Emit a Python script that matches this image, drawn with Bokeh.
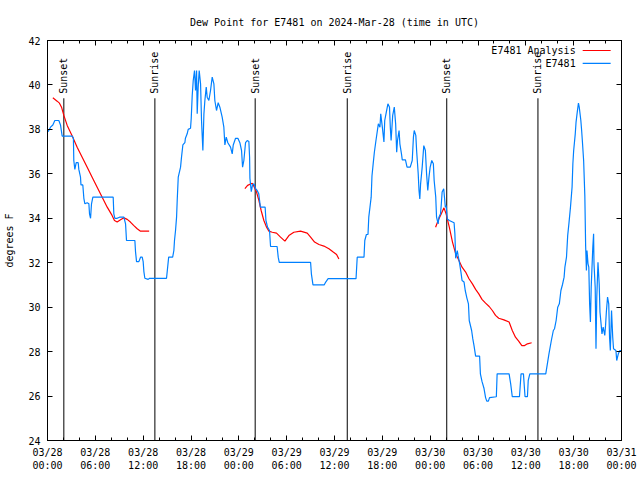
import math
from bokeh.plotting import figure
from bokeh.models import FixedTicker, LinearAxis, Label, Range1d
from bokeh.embed import file_html
from bokeh.resources import INLINE
from bokeh.core.properties import value

# ---------------- data (hours since 03/28 00:00 UTC, degrees F) ----------------
obs_hours = [0.08, 0.38, 0.67, 0.92, 1.42, 1.63, 1.84, 3.1, 3.25, 3.3, 3.43, 3.6, 3.85, 3.93, 4.14, 4.2, 4.43,
             4.56, 4.69, 4.98, 5.19, 5.27, 5.4, 5.52, 5.69, 8.24, 8.32, 8.45, 8.74, 9.03, 9.58, 9.79, 9.91,
             10.96, 11.04, 11.17, 11.46, 11.67, 11.88, 12.0, 12.09, 12.21, 12.63, 12.8, 14.93, 15.2, 15.7,
             15.85, 15.93, 16.06, 16.19, 16.27, 16.4, 16.69, 16.81, 16.98, 17.23, 17.3, 17.52, 17.65, 17.94,
             18.03, 18.15, 18.28, 18.44, 18.57, 18.7, 18.78, 18.9, 19.03, 19.2, 19.32, 19.49, 19.62, 19.74,
             19.91, 20.03, 20.24, 20.45, 20.66, 20.87, 20.99, 21.2, 21.41, 21.62, 21.91, 22.12, 22.25, 22.42,
             22.62, 22.96, 23.17, 23.3, 23.59, 23.88, 24.13, 24.34, 24.47, 24.63, 24.84, 25.05, 25.26, 25.35,
             25.39, 25.56, 25.72, 25.9, 26.1, 26.3, 26.5, 26.7, 27.3, 27.4, 27.6, 27.85, 27.98, 28.8, 28.94,
             29.07, 33.0, 33.1, 33.3, 34.7, 34.9, 35.2, 38.7, 38.85, 39.7, 39.8, 40.0, 40.2, 40.3, 40.45, 40.6,
             40.7, 40.85, 41.0, 41.2, 41.4, 41.5, 41.7, 41.8, 42.0, 42.2, 42.3, 42.5, 42.7, 42.9, 43.0, 43.1,
             43.3, 43.5, 43.67, 43.8, 43.9, 44.1, 44.2, 44.4, 44.5, 44.9, 45.1, 45.5, 45.75, 45.9, 46.0, 46.2,
             46.3, 46.5, 46.6, 46.7, 46.8, 47.0, 47.2, 47.4, 47.55, 47.7, 47.85, 48.0, 48.2, 48.4, 48.5, 48.7,
             48.8, 49.0, 49.1, 49.3, 49.4, 49.5, 49.7, 49.9, 50.0, 50.15, 50.4, 51.0, 51.1, 51.2, 51.4, 51.5,
             51.7, 51.86, 52.0, 52.25, 52.4, 52.6, 52.8, 52.9, 53.2, 53.35, 53.5, 53.7, 54.2, 54.3, 54.5, 54.75,
             54.95, 55.1, 55.3, 55.45, 56.3, 56.4, 57.9, 58.1, 58.3, 59.2, 59.4, 59.7, 59.9, 60.2, 60.3, 60.5,
             62.5, 62.7, 62.9, 63.2, 63.45, 63.6, 63.8, 64.0, 64.2, 64.4, 64.6, 64.8, 64.9, 65.1, 65.25, 65.4,
             65.6, 65.8, 65.9, 66.0, 66.2, 66.3, 66.45, 66.6, 66.7, 66.9, 67.0, 67.1, 67.25, 67.4, 67.5, 67.6,
             67.67, 67.8, 67.9, 68.0, 68.1, 68.2, 68.4, 68.5, 68.55, 68.7, 68.8, 68.9, 69.05, 69.2, 69.3, 69.4,
             69.55, 69.7, 69.9, 70.0, 70.1, 70.25, 70.4, 70.5, 70.6, 70.75, 70.9, 71.0, 71.3, 71.4, 71.6, 71.8,
             71.95]
obs_dew = [37.9, 38.1, 38.2, 38.4, 38.4, 38.2, 37.7, 37.7, 37.6, 36.6, 36.2, 36.5, 36.5, 36.2, 35.85, 35.5, 35.5,
           34.9, 34.65, 34.7, 34.65, 34.2, 34.0, 34.65, 34.95, 34.95, 34.2, 34.0, 34.0, 34.05, 34.05, 33.75, 33.0,
           33.0, 32.5, 32.05, 32.05, 32.25, 32.25, 32.05, 31.6, 31.3, 31.25, 31.3, 31.3, 32.25, 32.25,
           32.55, 33.0, 33.45, 34.05, 34.8, 35.85, 36.3, 36.75, 37.3, 37.4, 37.6, 37.8, 38.0, 38.05,
           38.5, 39.5, 40.2, 40.65, 39.75, 40.65, 38.7, 39.9, 40.65, 40.05, 38.4, 37.05, 38.7, 39.3,
           39.9, 39.45, 39.3, 39.75, 40.35, 40.05, 39.3, 38.85, 39.2, 39.0, 38.55, 38.1, 37.3, 37.65,
           37.4, 37.2, 36.9, 37.3, 37.6, 37.6, 37.4, 37.05, 36.3, 36.6, 37.4, 37.5, 37.45, 36.75,
           35.8, 35.2, 35.5, 35.55, 35.33, 35.25, 35.1, 34.5, 34.5, 33.9, 33.6, 33.45, 32.73, 32.73, 32.25,
           32.02, 32.02, 31.5, 31.0, 31.0, 31.13, 31.28, 31.28, 32.25, 32.25, 33.0, 33.27, 33.27, 34.05, 34.5, 34.95,
           35.9, 36.45, 36.97, 37.5, 38.0, 38.25, 38.1, 38.7, 38.1, 37.43, 38.4, 38.78, 39.15, 39.0, 38.1, 37.5,
           38.63, 39.0, 38.25, 36.97, 37.5, 37.95, 37.35, 36.9, 36.63, 36.63, 36.3, 36.3, 36.6, 37.65, 37.95, 37.73,
           37.05, 36.0, 35.25, 34.87, 35.55, 36.3, 37.27, 37.05, 36.0, 35.25, 35.85, 36.3, 36.6, 36.45, 35.7, 34.95,
           34.05, 33.75, 34.05, 34.2, 34.65, 35.18, 35.33, 34.5, 34.57, 33.97, 33.9, 33.8, 33.3, 32.2, 32.55, 32.33,
           31.95, 31.58, 31.2, 31.13, 30.75, 30.42, 30.15, 29.4, 28.95, 28.57, 28.27, 27.8, 27.8, 27.0, 26.66, 26.35,
           25.93, 25.77, 25.77, 25.93, 25.97, 27.0, 27.0, 26.55, 25.97, 25.97, 27.0, 27.0, 25.97, 25.97, 26.7, 27.0,
           27.0, 27.45, 27.9, 28.5, 28.95, 29.03, 29.4, 30.0, 30.15, 30.75, 31.02, 31.35, 31.8, 32.25, 33.22, 33.75,
           34.5, 35.4, 36.45, 37.05, 37.8, 38.33, 38.78, 39.18, 39.0, 38.4, 37.95, 37.43, 36.6, 35.02, 32.77, 31.65,
           32.55, 31.95, 31.8, 30.15, 29.33, 30.9, 32.7, 33.3, 31.95, 30.9, 28.13, 30.45, 32.02, 31.05, 29.78, 29.4,
           28.8, 29.1, 28.73, 29.18, 29.78, 30.45, 30.15, 28.65, 28.05, 29.85, 28.65, 28.13, 28.05, 27.6, 27.9, 28.05,
           28.05]

nan = float("nan")
analysis_hours = [0.67, 1.21, 1.5, 1.76, 2.05, 2.47, 3.1, 3.72, 4.35, 4.98, 5.6, 6.23, 6.86, 7.49, 8.1, 8.4,
                  8.74, 9.16, 9.58, 10.0, 10.4, 10.8, 11.25, 11.67, 12.3, 12.75, nan,
                  24.76, 25.1, 25.68, 25.9, 26.22, 26.52, 26.8, 27.14, 27.48, 27.77, 28.19, 28.73, 29.23, 29.78,
                  30.28, 30.9, 31.74, 32.58, 33.0, 33.5, 34.05, 34.67, 35.3, 35.84, 36.26, 36.55, nan,
                  48.68, 49.0, 49.4, 49.73, 50.0, 50.4, 50.8, 51.2, 51.61, 52.0, 52.45, 52.87, 53.3, 53.7, 54.1,
                  54.5, 54.95, 55.4, 55.8, 56.2, 56.6, 57.25, 57.9, 58.3, 58.7, 59.1, 59.5, 59.85, 60.2, 60.73]
analysis_dew = [39.42, 39.27, 39.18, 39.0, 38.63, 38.18, 37.7, 37.2, 36.75, 36.3, 35.85, 35.4, 34.95, 34.5, 34.13, 33.9,
                33.83, 33.93, 34.02, 33.95, 33.83, 33.68, 33.53, 33.42, 33.42, 33.42, nan,
                35.33, 35.48, 35.58, 35.43, 35.18, 34.8, 34.35, 33.9, 33.6, 33.42, 33.37, 33.33, 33.15, 32.97,
                33.22, 33.37, 33.42, 33.33, 33.15, 32.93, 32.82, 32.75, 32.63, 32.48, 32.37, 32.17, nan,
                33.6, 33.9, 34.2, 34.47, 34.2, 33.6, 32.93, 32.4, 32.1, 31.8, 31.58, 31.28, 31.05, 30.8, 30.6,
                30.35, 30.18, 30.03, 29.85, 29.63, 29.5, 29.43, 29.33, 28.95, 28.65, 28.47, 28.27, 28.27, 28.35, 28.4]

sunset_hours = [2.05, 26.05, 50.08]
sunrise_hours = [13.47, 37.6, 61.52]

x_tick_hours = [0, 6, 12, 18, 24, 30, 36, 42, 48, 54, 60, 66, 72]
x_tick_labels = ["03/28\n00:00", "03/28\n06:00", "03/28\n12:00", "03/28\n18:00",
                 "03/29\n00:00", "03/29\n06:00", "03/29\n12:00", "03/29\n18:00",
                 "03/30\n00:00", "03/30\n06:00", "03/30\n12:00", "03/30\n18:00", "03/31\n00:00"]
x_minor_hours = list(range(0, 73, 2))
y_ticks = [24, 26, 28, 30, 32, 34, 36, 38, 40, 42]

series_names = ["E7481 Analysis", "E7481"]
series_colors = ["#ff0000", "#0080ff"]

# ---------------- styling constants ----------------
FONT = "DejaVu Sans Mono"
EVENT_LINE_TOP = 39.4     # where the sunrise/sunset lines end (value units)
EVENT_LABEL_Y = 39.6

p = figure(width=640, height=480, output_backend="svg", toolbar_location=None,
           x_range=Range1d(0, 72), y_range=Range1d(24, 42),
           min_border_left=47, min_border_right=19, min_border_top=40, min_border_bottom=40,
           title="Dew Point for E7481 on 2024-Mar-28 (time in UTC)")

p.background_fill_color = "white"
p.border_fill_color = "white"
p.outline_line_color = "black"
p.outline_line_width = 1
p.xgrid.visible = False
p.ygrid.visible = False

p.title.text_font = FONT
p.title.text_font_size = "10px"
p.title.text_font_style = "normal"
p.title.text_color = "black"
p.title.align = "center"
p.title.offset = -14
p.title.standoff = 25

def style_axis(ax, labels=True):
    ax.axis_line_color = "black"
    ax.major_tick_line_color = "black"
    ax.minor_tick_line_color = "black"
    ax.major_tick_in = 5
    ax.major_tick_out = 0
    ax.minor_tick_in = 3
    ax.minor_tick_out = 0
    ax.major_label_text_font = FONT
    ax.major_label_text_font_size = "10px" if labels else "0px"
    ax.major_label_text_color = "black"

xa = p.xaxis[0]
xa.ticker = FixedTicker(ticks=x_tick_hours, minor_ticks=x_minor_hours)
xa.major_label_overrides = {t: lab for t, lab in zip(x_tick_hours, x_tick_labels)}
style_axis(xa)
xa.major_label_standoff = 6

ya = p.yaxis[0]
ya.ticker = FixedTicker(ticks=y_ticks, minor_ticks=[])
style_axis(ya)
ya.major_label_standoff = 7
ya.axis_label = "degrees F"
ya.axis_label_text_font = FONT
ya.axis_label_text_font_size = "10px"
ya.axis_label_text_font_style = "normal"
ya.axis_label_text_color = "black"
ya.axis_label_standoff = 10

top = LinearAxis(ticker=FixedTicker(ticks=x_tick_hours, minor_ticks=x_minor_hours))
style_axis(top, labels=False)
top.major_label_standoff = 0
top.major_label_overrides = {t: "" for t in x_tick_hours}
p.add_layout(top, "above")

right = LinearAxis(ticker=FixedTicker(ticks=y_ticks, minor_ticks=[]))
style_axis(right, labels=False)
right.major_label_standoff = 0
right.major_label_overrides = {t: "" for t in y_ticks}
p.add_layout(right, "right")

# sunrise / sunset markers
event_hours = sunset_hours + sunrise_hours
event_names = ["Sunset"] * len(sunset_hours) + ["Sunrise"] * len(sunrise_hours)
p.segment(x0=event_hours, y0=[24] * len(event_hours), x1=event_hours, y1=[EVENT_LINE_TOP] * len(event_hours),
          line_color="black", line_width=1)
p.text(x=event_hours, y=[EVENT_LABEL_Y] * len(event_hours), text=event_names, angle=math.pi / 2,
       text_align="left", text_baseline="middle", text_font=value(FONT), text_font_size="10px",
       text_color="black")

# data series
p.line(analysis_hours, analysis_dew, line_color=series_colors[0], line_width=1.2)
p.line(obs_hours, obs_dew, line_color=series_colors[1], line_width=1.2)

# legend (text left of sample line, gnuplot style)
legend_text_x = 66.25
legend_line_x0, legend_line_x1 = 67.13, 70.64
legend_rows_y = [41.55, 40.97]
for name, col, yy in zip(series_names, series_colors, legend_rows_y):
    p.add_layout(Label(x=legend_text_x, y=yy, text=name, text_align="right", text_baseline="middle",
                       text_font=FONT, text_font_size="10px", text_color="black"))
p.segment(x0=[legend_line_x0] * 2, y0=legend_rows_y, x1=[legend_line_x1] * 2, y1=legend_rows_y,
          line_color=series_colors, line_width=1.2)

open("out.html", "w").write(file_html(p, INLINE))
